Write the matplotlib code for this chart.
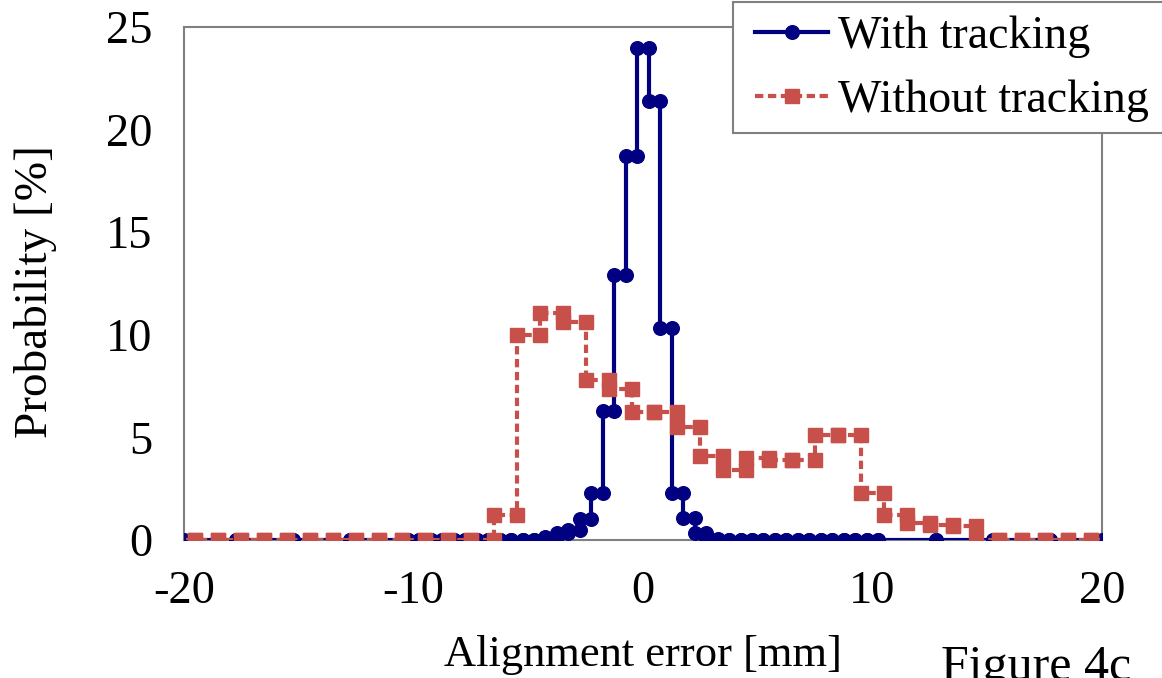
import numpy as np
import matplotlib
matplotlib.use("Agg")
import matplotlib.pyplot as plt
from matplotlib.patches import Rectangle

# ---------------- data ----------------
# "With tracking": histogram bins (edges in mm) and probabilities [%]
with_edges = ([-20.0, -17.75, -15.25, -12.75]
              + list(np.arange(-10.25, 10.26, 0.5))
              + [12.75, 15.25, 17.75, 20.0])
with_values = ([0, 0, 0, 0]                                   # coarse tail bins
               + [0] * 12                                      # -10.0 ... -4.5
               + [0.15, 0.35, 0.5, 1.0, 2.3, 6.3, 12.9, 18.7,  # -4.0 ... -0.5
                  24.0,                                        #  0.0
                  21.4, 10.35, 2.3, 1.05, 0.33, 0.05]          #  0.5 ... 3.0
               + [0] * 14                                      #  3.5 ... 10.0
               + [0, 0, 0, 0])                                 # coarse tail bins

# "Without tracking": 1 mm bins centred on integers
without_centers = list(range(-20, 21))
without_values = ([0] * 14                                       # -20 ... -7
                  + [1.2, 10.0, 11.05, 10.6, 7.8, 7.35,          # -6 ... -1
                     6.25, 6.25, 5.5, 4.1, 3.4, 4.0, 3.9, 3.9,   #  0 ... 7
                     5.1, 5.1, 2.3, 1.2, 0.85, 0.75, 0.7]        #  8 ... 14
                  + [0] * 6)                                     # 15 ... 20

x_ticks = [-20, -10, 0, 10, 20]
y_ticks = [0, 5, 10, 15, 20, 25]
series_labels = ["With tracking", "Without tracking"]


def step_xy(edges, values):
    edges = np.asarray(edges, dtype=float)
    values = np.asarray(values, dtype=float)
    xs = np.repeat(edges, 2)[1:-1]
    ys = np.repeat(values, 2)
    return xs, ys


wo_centers = np.asarray(without_centers, dtype=float)
wo_edges = np.concatenate([wo_centers - 0.5, [wo_centers[-1] + 0.5]])

# ---------------- plot ----------------
plt.rcParams["font.family"] = ["Liberation Serif", "DejaVu Serif"]
FS = 33.5

W, H = 1162, 678
fig = plt.figure(figsize=(W / 100, H / 100), dpi=100)
ax = fig.add_axes([184 / W, 1 - 540 / H, (1102 - 184) / W, (540 - 27) / H])

BLUE = "#000080"
RED = "#C8504A"

xb, yb = step_xy(with_edges, with_values)
xr, yr = step_xy(wo_edges, without_values)

ax.plot(xb, yb, color=BLUE, lw=3.0, marker="o", ms=9.8, mfc=BLUE, mec=BLUE,
        label=series_labels[0], zorder=3)
ax.plot(xr, yr, color=RED, lw=3.0, ls=(0, (2.0, 1.1)), marker="s", ms=10.5,
        mfc=RED, mec=RED, label=series_labels[1], zorder=4)

ax.set_xlim(-20, 20)
ax.set_ylim(0, 25)
ax.set_xticks(x_ticks)
ax.set_yticks(y_ticks)
ax.set_xticklabels([str(t) for t in x_ticks])
ax.tick_params(axis="both", length=0, labelsize=FS)
ax.tick_params(axis="y", pad=23)
ax.tick_params(axis="x", pad=22)
for sp in ax.spines.values():
    sp.set_color("#808080")
    sp.set_linewidth(1.5)

ax.set_xlabel("Alignment error [mm]", fontsize=32)
ax.xaxis.set_label_coords(0.5, (540 - 635) / 513)
ax.set_ylabel("Probability [%]", fontsize=34)
ax.yaxis.set_label_coords((57 - 184) / 918, (540 - 292) / 513)

# legend frame (extends past the right edge of the picture, as in the source)
frame = Rectangle((733 / W, 1 - 133 / H), 0.5, 133 / H - 1.5 / H,
                  transform=fig.transFigure, facecolor="white",
                  edgecolor="#808080", lw=1.5, zorder=5, clip_on=False)
ax.add_patch(frame)

leg = ax.legend(loc="upper left", bbox_to_anchor=(755 / W, 1 - 16 / H),
                bbox_transform=fig.transFigure, frameon=False, fontsize=33,
                handlelength=1.6, handletextpad=0.22, labelspacing=0.46,
                borderpad=0, borderaxespad=0, numpoints=1)
leg.set_zorder(6)

fig.text(941 / W, 1 - 680 / H, "Figure 4c", fontsize=36, ha="left",
         va="baseline")

fig.savefig("out.png", dpi=100)
